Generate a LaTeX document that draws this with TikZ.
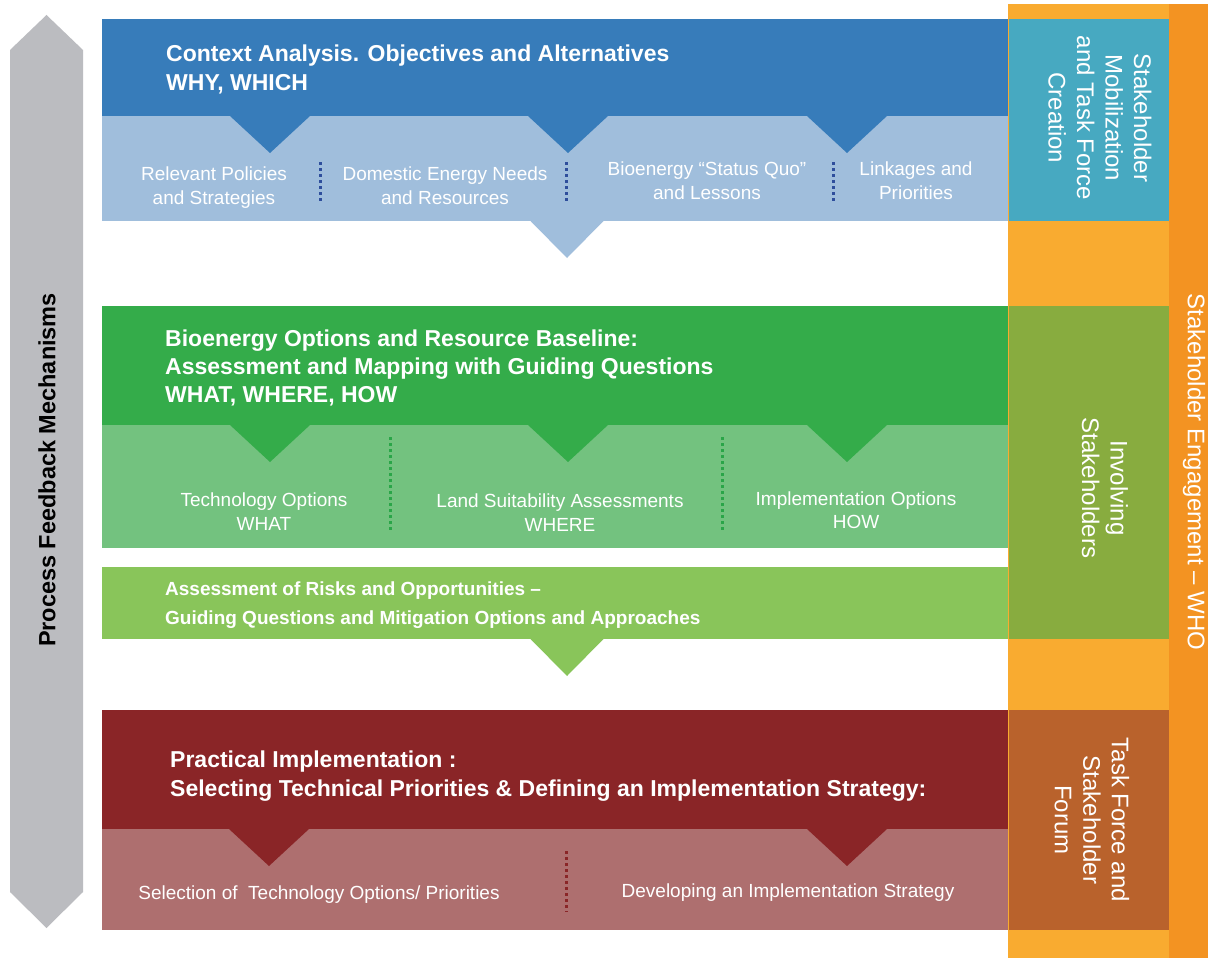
\documentclass[tikz,border=0pt]{standalone}
\usepackage{fontspec}
\setmainfont{Liberation Sans}
\definecolor{cblue}{HTML}{377CBA}
\definecolor{cblueL}{HTML}{A0BEDC}
\definecolor{cblueD}{HTML}{2E4E9C}
\definecolor{cteal}{HTML}{47A9C1}
\definecolor{corgL}{HTML}{F9AB30}
\definecolor{corgD}{HTML}{F39322}
\definecolor{cgreen}{HTML}{34AC4A}
\definecolor{cgreenD}{HTML}{2AA548}
\definecolor{cgreenL}{HTML}{73C27F}
\definecolor{cgreenR}{HTML}{89C55A}
\definecolor{colive}{HTML}{88AC3F}
\definecolor{cred}{HTML}{8A2527}
\definecolor{credL}{HTML}{AE6F6F}
\definecolor{cbrown}{HTML}{B9622C}
\definecolor{cgray}{HTML}{BBBCC0}
\newcommand\notchtri[4]{\fill[#1] (#2-#4,#3) -- (#2+#4,#3) -- (#2,#3+37) -- cycle;}
\begin{document}
\begin{tikzpicture}[x=1pt,y=-1pt,
  blk/.style={inner sep=0pt,outer sep=0pt,anchor=north west,draw=none},
  hd/.style={text=white,anchor=base west,inner sep=0pt,font=\fontsize{23}{28}\selectfont\bfseries},
  hds/.style={text=white,anchor=base west,inner sep=0pt,font=\fontsize{19}{24}\selectfont\bfseries},
  lt/.style={text=white,anchor=base,inner sep=0pt,font=\fontsize{19}{24}\selectfont},
  rt/.style={text=white,rotate=-90,align=center,inner sep=0pt,font=\fontsize{24}{28.5}\selectfont},
  dots/.style={line width=3pt,dash pattern=on 3pt off 3pt}
]
\useasboundingbox (0,0) rectangle (1208,958);
\fill[white] (0,0) rectangle (1208,958);

% right columns
\node[blk,fill=corgL,minimum width=161pt,minimum height=954pt] (colL) at (1008,4) {};
\node[blk,fill=corgD,minimum width=39pt,minimum height=954pt] (colD) at (1169,4) {};

% gray feedback arrow
\fill[cgray] (10,50) -- (46.5,15) -- (83,50) -- (83,892) -- (46.5,928) -- (10,892) -- cycle;
\node[rotate=90,inner sep=0pt,font=\fontsize{23.5}{27}\selectfont\bfseries] (pfm) at (47,470) {Process Feedback Mechanisms};

% block 1
\node[blk,fill=cblue,minimum width=906pt,minimum height=97pt] (ctxH) at (102,19) {};
\node[blk,fill=cblueL,minimum width=906pt,minimum height=105pt] (ctxL) at (102,116) {};
\node[blk,fill=cteal,minimum width=160pt,minimum height=202pt] (stk1) at (1009,19) {};
\notchtri{cblue}{270}{116}{40}
\notchtri{cblue}{568}{116}{40}
\notchtri{cblue}{847}{116}{40}
\notchtri{cblueL}{567}{221}{36.5}
\draw[dots,cblueD] (320,162) -- (320,202);
\draw[dots,cblueD] (566,162) -- (566,202);
\draw[dots,cblueD] (833,162) -- (833,202);
\node[hd] (t1a) at (166,62) {Context Analysis. Objectives and Alternatives};
\node[hd] (t1b) at (166,91) {WHY, WHICH};
\node[lt] (l1a) at (214,180) {Relevant Policies};
\node[lt] (l1b) at (214,204) {and Strategies};
\node[lt] (l2a) at (445,180) {Domestic Energy Needs};
\node[lt] (l2b) at (445,204) {and Resources};
\node[lt] (l3a) at (707,175) {Bioenergy “Status Quo”};
\node[lt] (l3b) at (707,199) {and Lessons};
\node[lt] (l4a) at (916,175) {Linkages and};
\node[lt] (l4b) at (916,199) {Priorities};
\node[rt] (s1) at (1100,118) {Stakeholder\\Mobilization\\and Task Force\\Creation};

% block 2
\node[blk,fill=cgreen,minimum width=906pt,minimum height=119pt] (bioH) at (102,306) {};
\node[blk,fill=cgreenL,minimum width=906pt,minimum height=123pt] (bioL) at (102,425) {};
\node[blk,fill=cgreenR,minimum width=906pt,minimum height=72pt] (risk) at (102,567) {};
\node[blk,fill=colive,minimum width=160pt,minimum height=333pt] (stk2) at (1009,306) {};
\notchtri{cgreen}{270}{425}{40}
\notchtri{cgreen}{568}{425}{40}
\notchtri{cgreen}{847}{425}{40}
\notchtri{cgreenR}{567}{639}{36.5}
\draw[dots,cgreenD] (390,437) -- (390,530);
\draw[dots,cgreenD] (722,437) -- (722,530);
\node[hd] (t2a) at (165,346) {Bioenergy Options and Resource Baseline:};
\node[hd] (t2b) at (165,374) {Assessment and Mapping with Guiding Questions};
\node[hd] (t2c) at (165,402) {WHAT, WHERE, HOW};
\node[lt] (g1a) at (264,506) {Technology Options};
\node[lt] (g1b) at (264,530) {WHAT};
\node[lt] (g2a) at (560,507) {Land Suitability Assessments};
\node[lt] (g2b) at (560,531) {WHERE};
\node[lt] (g3a) at (856,505) {Implementation Options};
\node[lt] (g3b) at (856,528) {HOW};
\node[hds] (r1) at (165,595) {Assessment of Risks and Opportunities –};
\node[hds] (r2) at (165,624) {Guiding Questions and Mitigation Options and Approaches};
\node[rt] (s2) at (1105,488) {Involving\\Stakeholders};

% block 3
\node[blk,fill=cred,minimum width=906pt,minimum height=119pt] (impH) at (102,710) {};
\node[blk,fill=credL,minimum width=906pt,minimum height=101pt] (impL) at (102,829) {};
\node[blk,fill=cbrown,minimum width=160pt,minimum height=220pt] (stk3) at (1009,710) {};
\notchtri{cred}{269}{829}{40}
\notchtri{cred}{847}{829}{40}
\draw[dots,cred] (566,851) -- (566,912);
\node[hd] (t3a) at (170,767) {Practical Implementation :};
\node[hd] (t3b) at (170,796) {Selecting Technical Priorities \& Defining an Implementation Strategy:};
\node[lt] (p1) at (319,899) {Selection of\ \ Technology Options/ Priorities};
\node[lt] (p2) at (788,897) {Developing an Implementation Strategy};
\node[rt] (s3) at (1092,820) {Task Force and\\Stakeholder\\Forum};

% outer column label
\node[rotate=-90,text=white,inner sep=0pt,font=\fontsize{24}{28}\selectfont] (who) at (1194,472) {Stakeholder Engagement – WHO};
\end{tikzpicture}
\end{document}
